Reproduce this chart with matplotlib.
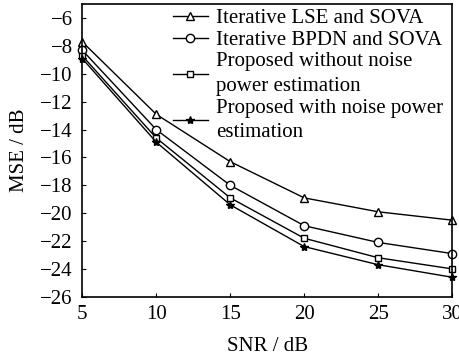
import matplotlib
matplotlib.use('Agg')
import matplotlib.pyplot as plt
import numpy as np

plt.rcParams['font.family'] = ['Liberation Serif', 'DejaVu Serif']

snr = [5, 10, 15, 20, 25, 30]
mse_lse = [-7.7, -12.9, -16.3, -18.9, -19.9, -20.5]
mse_bpdn = [-8.3, -14.0, -18.0, -20.9, -22.1, -22.9]
mse_prop_no = [-8.7, -14.6, -18.9, -21.8, -23.2, -24.0]
mse_prop_with = [-8.9, -14.9, -19.4, -22.4, -23.7, -24.6]
labels = ["Iterative LSE and SOVA",
          "Iterative BPDN and SOVA",
          "Proposed without noise\npower estimation",
          "Proposed with noise power\nestimation"]

fig = plt.figure(figsize=(4.6, 3.61), dpi=100)
ax = fig.add_axes([0.179, 0.178, 0.804, 0.810])

kw = dict(color='black', lw=1.0, mfc='white', mec='black', mew=1.0, clip_on=False)
ax.plot(snr, mse_lse, marker='^', ms=6, label=labels[0], **kw)
ax.plot(snr, mse_bpdn, marker='o', ms=6, label=labels[1], **kw)
ax.plot(snr, mse_prop_no, marker='s', ms=4, label=labels[2], **kw)
ax.plot(snr, mse_prop_with, marker='*', ms=6, label=labels[3],
        color='black', lw=1.0, mfc='black', mec='black', clip_on=False)

ax.set_xlim(5, 30)
ax.set_ylim(-26, -5)
ax.set_xticks(np.arange(5, 31, 5))
ax.set_yticks(np.arange(-26, -5, 2))
ax.tick_params(direction='in', length=3, labelsize=15)
ax.tick_params(axis='y', pad=7)
ax.tick_params(axis='x', pad=6)
for s in ax.spines.values():
    s.set_linewidth(1.2)
ax.set_xlabel("SNR / dB", fontsize=15, labelpad=9)
ax.set_ylabel("MSE / dB", fontsize=15, labelpad=8)

leg = ax.legend(loc='upper right', frameon=False, fontsize=15, handlelength=1.7,
                handletextpad=0.4, labelspacing=0.12, borderaxespad=0.0,
                bbox_to_anchor=(0.999, 1.015))
for t in leg.get_texts():
    t.set_linespacing(1.4)

fig.savefig('out.png', dpi=100)
